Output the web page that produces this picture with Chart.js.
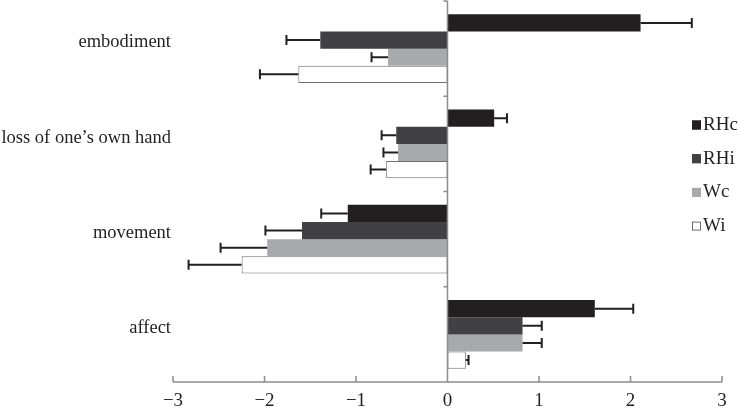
<!DOCTYPE html>
<html>
<head>
<meta charset="utf-8">
<script src="https://cdn.jsdelivr.net/npm/chart.js@4.4.1/dist/chart.umd.min.js"></script>
<style>
  html, body { margin: 0; padding: 0; background: #fff; }
  #wrap { width: 738px; height: 414px; }
</style>
</head>
<body>
<div id="wrap"><canvas id="chart"></canvas></div>
<script>
// data
var categories = ['embodiment', 'loss of one\u2019s own hand', 'movement', 'affect'];
var seriesNames = ['RHc', 'RHi', 'Wc', 'Wi'];
var rhc = [2.11, 0.51, -1.09, 1.61];
var rhi = [-1.39, -0.56, -1.59, 0.82];
var wc  = [-0.65, -0.54, -1.97, 0.82];
var wi  = [-1.63, -0.67, -2.25, 0.20];
// error bar lengths (one-sided, drawn outward)
var rhcErr = [0.56, 0.14, 0.29, 0.42];
var rhiErr = [0.37, 0.16, 0.40, 0.21];
var wcErr  = [0.18, 0.16, 0.51, 0.21];
var wiErr  = [0.42, 0.17, 0.58, 0.03];
var xTicks = [-3, -2, -1, 0, 1, 2, 3];

var fill   = ['#231f20', '#414042', '#a7a9ac', '#ffffff'];
var stroke = ['#231f20', '#414042', '#a7a9ac', '#6d6e70'];
var errs = [rhcErr, rhiErr, wcErr, wiErr];
var values = [rhc, rhi, wc, wi];

Chart.defaults.font.family = "'Liberation Serif', 'Times New Roman', serif";
Chart.defaults.color = '#231f20';

var axisColor = '#8c8c8c';

// axes like the figure: bottom line with upward ticks, zero line with left ticks
var axesPlugin = {
  id: 'axesPlugin',
  afterDatasetsDraw: function(chart) {
    var ctx = chart.ctx, ca = chart.chartArea;
    var xs = chart.scales.x;
    ctx.save();
    ctx.strokeStyle = axisColor;
    ctx.lineWidth = 1.5;
    var x0 = xs.getPixelForValue(0);
    ctx.beginPath();
    ctx.moveTo(x0, ca.top);
    ctx.lineTo(x0, ca.bottom);
    var band = (ca.bottom - ca.top) / categories.length;
    for (var k = 0; k <= categories.length; k++) {
      var y = ca.top + k * band;
      ctx.moveTo(x0 - 4, y);
      ctx.lineTo(x0, y);
    }
    ctx.moveTo(xs.getPixelForValue(xTicks[0]), ca.bottom);
    ctx.lineTo(xs.getPixelForValue(xTicks[xTicks.length - 1]), ca.bottom);
    xTicks.forEach(function(t) {
      var px = xs.getPixelForValue(t);
      ctx.moveTo(px, ca.bottom);
      ctx.lineTo(px, ca.bottom - 6);
    });
    ctx.stroke();
    ctx.restore();
  }
};

var errorBarPlugin = {
  id: 'errorBarPlugin',
  afterDatasetsDraw: function(chart) {
    var ctx = chart.ctx, xs = chart.scales.x;
    ctx.save();
    ctx.strokeStyle = '#231f20';
    ctx.lineWidth = 2;
    chart.data.datasets.forEach(function(ds, i) {
      var meta = chart.getDatasetMeta(i);
      meta.data.forEach(function(bar, j) {
        var v = ds.data[j];
        var e = errs[i][j];
        var end = v >= 0 ? v + e : v - e;
        var xa = xs.getPixelForValue(v);
        var xb = xs.getPixelForValue(end);
        ctx.beginPath();
        ctx.moveTo(xa, bar.y);
        ctx.lineTo(xb, bar.y);
        ctx.moveTo(xb, bar.y - 5);
        ctx.lineTo(xb, bar.y + 5);
        ctx.stroke();
      });
    });
    ctx.restore();
  }
};

var legendPlugin = {
  id: 'legendPlugin',
  afterDraw: function(chart) {
    var ctx = chart.ctx;
    ctx.save();
    ctx.font = "19px 'Liberation Serif', 'Times New Roman', serif";
    ctx.textBaseline = 'middle';
    ctx.textAlign = 'left';
    seriesNames.forEach(function(name, i) {
      var y = 125 + i * 33.7;
      ctx.fillStyle = fill[i];
      ctx.fillRect(692, y - 4.5, 9, 9);
      ctx.strokeStyle = stroke[i];
      ctx.lineWidth = 1;
      ctx.strokeRect(692.5, y - 4, 8, 8);
      ctx.fillStyle = '#231f20';
      ctx.fillText(name, 703, y);
    });
    ctx.restore();
  }
};

var datasets = seriesNames.map(function(name, i) {
  return {
    label: name,
    data: values[i],
    backgroundColor: fill[i],
    borderColor: stroke[i],
    borderWidth: i === 3 ? 1 : 0,
    borderSkipped: false,
    categoryPercentage: 0.72,
    barPercentage: 1.0
  };
});

var ctx = document.getElementById('chart').getContext('2d');
var chart = new Chart(ctx, {
  type: 'bar',
  data: { labels: categories, datasets: datasets },
  options: {
    indexAxis: 'y',
    responsive: true,
    maintainAspectRatio: false,
    animation: false,
    layout: { padding: { top: 1, right: 16, left: 0, bottom: 0 } },
    plugins: {
      legend: { display: false },
      tooltip: { enabled: false }
    },
    scales: {
      x: {
        type: 'linear',
        min: -3,
        max: 3,
        afterBuildTicks: function(scale) {
          scale.ticks = xTicks.map(function(v) { return { value: v }; });
        },
        afterFit: function(scale) {
          scale.height = 32;
          scale.paddingLeft = 0;
          scale.paddingRight = 0;
        },
        grid: { display: false, drawTicks: false },
        border: { display: false },
        ticks: {
          padding: 8,
          font: { size: 19 },
          color: '#231f20',
          callback: function(v) { return v < 0 ? '\u2212' + Math.abs(v) : String(v); }
        }
      },
      y: {
        type: 'category',
        afterFit: function(scale) {
          scale.width = 173;
          scale.paddingTop = 0;
          scale.paddingBottom = 0;
        },
        grid: { display: false, drawTicks: false },
        border: { display: false },
        ticks: {
          padding: 2,
          labelOffset: -6,
          font: { size: 18.5 },
          color: '#231f20'
        }
      }
    }
  },
  plugins: [axesPlugin, errorBarPlugin, legendPlugin]
});
</script>
</body>
</html>
